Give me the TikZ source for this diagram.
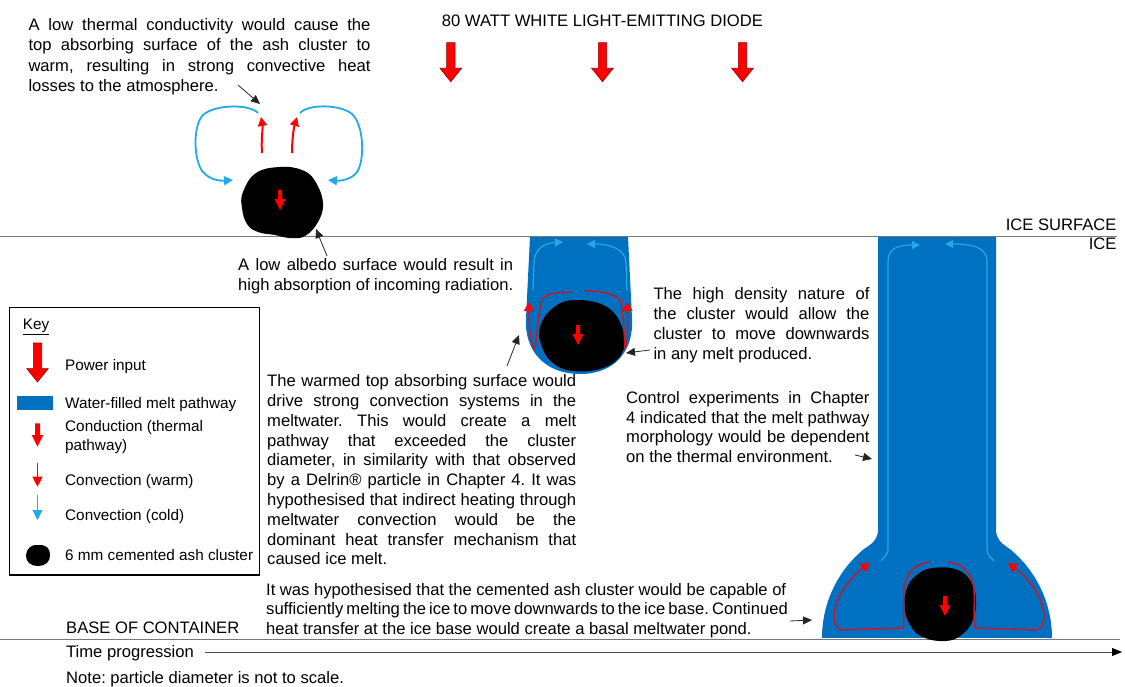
\documentclass[tikz,border=0pt]{standalone}
\usepackage{fontspec}
\setmainfont{Liberation Sans}
\usetikzlibrary{arrows.meta}
\frenchspacing
\definecolor{meltblue}{RGB}{0,112,192}
\definecolor{coldblue}{RGB}{35,170,230}
\definecolor{warmred}{RGB}{195,25,45}
\definecolor{hotred}{RGB}{255,0,0}
\definecolor{arrowedge}{RGB}{150,0,0}
\definecolor{rulegray}{RGB}{120,120,120}
\newcommand\jl[1]{\makebox[\linewidth][s]{#1}\par}
\newcommand\bodyfont{\fontsize{16.6}{19.8}\selectfont\frenchspacing}
\newcommand\keyfont{\fontsize{15.3}{18.3}\selectfont}
\begin{document}
\begin{tikzpicture}[x=1pt,y=-1pt,
  txt/.style={inner sep=0pt, anchor=base west, font=\bodyfont},
  keytxt/.style={inner sep=0pt, anchor=base west, font=\keyfont},
  pointer/.style={draw=black!85, line width=0.8pt, -{Triangle[length=9pt,width=8pt]}},
  cold/.style={draw=coldblue, line width=1.2pt, -{Triangle[length=8pt,width=8pt]}},
  coldthick/.style={draw=coldblue, line width=1.8pt, -{Triangle[length=9pt,width=9pt]}},
  warm/.style={draw=warmred, line width=1.5pt, -{Triangle[length=9pt,width=10pt,color=hotred]}},
  warmthick/.style={draw=hotred, line width=2pt, -{Triangle[length=9pt,width=9pt]}},
  rule/.style={draw=rulegray, line width=1pt},
  powerarrow/.pic={\filldraw[fill=hotred, draw=arrowedge, line width=0.6pt]
      (-4.2,0) -- (4.2,0) -- (4.2,25.6) -- (10.8,25.6) -- (0,39) -- (-10.8,25.6) -- (-4.2,25.6) -- cycle;},
  condarrow/.pic={\fill[hotred]
      (-2,0) -- (2,0) -- (2,9) -- (5.5,9) -- (0,20) -- (-5.5,9) -- (-2,9) -- cycle;},
]
\useasboundingbox (0,0) rectangle (1125,687);

% ---------- heading and incoming power ----------
\node[txt] (led) at (441.7,26.7) {80 WATT WHITE LIGHT-EMITTING DIODE};
\pic at (450.8,42.7) {powerarrow};
\pic at (602.5,42.7) {powerarrow};
\pic at (742.5,42.7) {powerarrow};

% ---------- melt pathways ----------
\fill[meltblue] (530,237) -- (526,318) .. controls (524,352) and (546,374) .. (580,374)
  .. controls (614,374) and (634,352) .. (632,318) -- (628,237) -- cycle;
\fill[meltblue] (878,237) -- (878,530) .. controls (878,539) and (872,544) .. (864,549)
  arc[start angle=230.6, end angle=180, radius=115] -- (1052,638)
  arc[start angle=0, end angle=-50.6, radius=115]
  .. controls (1002,544) and (996,539) .. (996,530) -- (996,237) -- cycle;

% ---------- surfaces ----------
\draw[rule] (0,236.5) -- (1117,236.5);
\draw[rule] (0,639) -- (1120,639);
\node[txt, anchor=base east] (icesurf) at (1116.7,230.7) {ICE SURFACE};
\node[txt, anchor=base east] (ice) at (1116.7,249.3) {ICE};

% ---------- stage 1: cluster on the ice surface ----------
\fill[black] plot[smooth cycle, tension=0.7] coordinates {
  (243,192) (256,173) (280,167) (302,170) (315,181) (323,203) (318,222)
  (305,236) (290,238) (275,235) (258,232) (247,224) (242,208)};
\pic at (280,190) {condarrow};
\draw[warmthick] (262,153) .. controls (261,140) and (263,128) .. (261,117);
\draw[warmthick] (292,153) .. controls (292,138) and (294,127) .. (297,117);
\draw[coldthick] (258,113) .. controls (250,104) and (215,104) .. (203,115)
  .. controls (193,125) and (193,160) .. (203,172) .. controls (210,180) and (220,181) .. (233,180);
\draw[coldthick] (300,113) .. controls (308,104) and (340,104) .. (352,114)
  .. controls (364,125) and (365,160) .. (357,172) .. controls (351,180) and (340,181) .. (328,180);

% ---------- stage 2: shallow melt pathway ----------
\fill[black] plot[smooth cycle, tension=0.7] coordinates {
  (575,300) (607,307) (623,330) (622,353) (603,368) (573,371) (553,363)
  (542,347) (540,327) (553,308)};
\pic at (578,325) {condarrow};
\draw[cold] (533,290) -- (534,262) .. controls (535,248) and (545,243) .. (563,242);
\draw[cold] (627,291) -- (626,262) .. controls (625,250) and (612,244) .. (587,244);
\draw[warm] (572,292) .. controls (560,292) and (546,293) .. (542,300)
  .. controls (538,315) and (537,335) .. (535,349) .. controls (531,345) and (529,330) .. (529,302);
\draw[warm] (585,291) .. controls (600,291) and (615,294) .. (620,300)
  .. controls (624,315) and (624,335) .. (625,348) .. controls (628,345) and (628,330) .. (627,302);

% ---------- stage 3: deep pathway and basal pond ----------
\fill[black] plot[smooth cycle, tension=0.7] coordinates {
  (933,568) (955,569) (970,580) (976,600) (972,622) (960,636) (945,641)
  (925,638) (912,628) (905,610) (907,588) (918,574)};
\pic at (945,596) {condarrow};
\draw[cold] (881,561) .. controls (884,556) and (888,556) .. (888,548) -- (888,262)
  .. controls (888,250) and (895,245) .. (920,245);
\draw[cold] (994,561) .. controls (990,556) and (987,556) .. (987,548) -- (987,262)
  .. controls (987,250) and (978,244) .. (945,244);
\draw[warm] (930,562) .. controls (915,563) and (905,575) .. (904,590)
  .. controls (903,605) and (905,618) .. (903,628) -- (842,630)
  .. controls (830,628) and (832,605) .. (845,587) .. controls (852,577) and (860,570) .. (870,563);
\draw[warm] (948,562) .. controls (963,563) and (973,575) .. (974,590)
  .. controls (975,605) and (973,618) .. (975,628) -- (1036,630)
  .. controls (1048,628) and (1046,605) .. (1033,587) .. controls (1026,577) and (1018,570) .. (1008,563);

% ---------- annotations ----------
\node[txt] (conduct) at (28.3,30.7) {\parbox[t]{342pt}{\bodyfont\baselineskip=20.3pt
  \jl{A low thermal conductivity would cause the}
  \jl{top absorbing surface of the ash cluster to}
  \jl{warm, resulting in strong convective heat}
  losses to the atmosphere.}};
\node[txt] (albedo) at (238,270.7) {\parbox[t]{275pt}{\bodyfont
  \jl{A low albedo surface would result in}
  high absorption of incoming radiation.}};
\node[txt] (warmed) at (267,386.7) {\parbox[t]{309pt}{\bodyfont
  \jl{The warmed top absorbing surface would}
  \jl{drive strong convection systems in the}
  \jl{meltwater. This would create a melt}
  \jl{pathway that exceeded the cluster}
  \jl{diameter, in similarity with that observed}
  \jl{by a Delrin® particle in Chapter 4. It was}
  \jl{hypothesised that indirect heating through}
  \jl{meltwater convection would be the}
  \jl{dominant heat transfer mechanism that}
  caused ice melt.}};
\node[txt] (density) at (653.3,300) {\parbox[t]{216pt}{\bodyfont
  \jl{The high density nature of}
  \jl{the cluster would allow the}
  \jl{cluster to move downwards}
  in any melt produced.}};
\node[txt] (control) at (626,403.3) {\parbox[t]{243.3pt}{\bodyfont
  \jl{Control experiments in Chapter}
  \jl{4 indicated that the melt pathway}
  \jl{morphology would be dependent}
  on the thermal environment.}};
\node[txt] (pond) at (266,595) {\parbox[t]{520pt}{\bodyfont
  \jl{It was hypothesised that the cemented ash cluster would be capable of}
  \jl{sufficiently melting the ice to move downwards to the ice base. Continued}
  heat transfer at the ice base would create a basal meltwater pond.}};

\coordinate (p1a) at (238,85);   \coordinate (p1b) at (260,104);
\coordinate (p2a) at (327,256);  \coordinate (p2b) at (316,229);
\coordinate (p3a) at (507,366);  \coordinate (p3b) at (519,335);
\coordinate (p4a) at (650,350);  \coordinate (p4b) at (626,353);
\coordinate (p5a) at (855,455);  \coordinate (p5b) at (872,459);
\coordinate (p6a) at (790,621);  \coordinate (p6b) at (812,620);
\draw[pointer] (p1a) -- (p1b);
\draw[pointer] (p2a) -- (p2b);
\draw[pointer] (p3a) -- (p3b);
\draw[pointer] (p4a) -- (p4b);
\draw[pointer] (p5a) -- (p5b);
\draw[pointer] (p6a) -- (p6b);

% ---------- base and time axis ----------
\node[txt] (base) at (66,633) {BASE OF CONTAINER};
\node[txt] (time) at (66,657.5) {Time progression};
\node[txt] (note) at (66,683) {Note: particle diameter is not to scale.};
\coordinate (tstart) at (205,652);
\coordinate (tend) at (1122,652);
\draw[draw=black!70, line width=0.9pt, -{Triangle[length=10pt,width=8pt,color=black]}] (tstart) -- (tend);

% ---------- key ----------
\draw[black, line width=1.2pt] (9.3,307.3) rectangle (259.3,575);
\node[keytxt] (keyhead) at (22.7,330) {\underline{Key}};
\begin{scope}[shift={(37.5,343)}, scale=1]
  \pic {powerarrow};
\end{scope}
\node[keytxt] (kpower) at (65,370.7) {Power input};
\fill[meltblue] (16.7,396) rectangle (52.7,410);
\node[keytxt] (kmelt) at (65,408.3) {Water-filled melt pathway};
\begin{scope}[shift={(37.5,423.3)}]
  \fill[hotred] (-2.5,0) -- (2.5,0) -- (2.5,11.7) -- (5.8,11.7) -- (0,23.4) -- (-5.8,11.7) -- (-2.5,11.7) -- cycle;
\end{scope}
\node[keytxt] (kcond) at (65,431.7) {\parbox[t]{190pt}{\keyfont Conduction (thermal\\pathway)}};
\coordinate (kw1) at (37.5,463.3); \coordinate (kw2) at (37.5,486.7);
\draw[draw=hotred, line width=1pt, -{Triangle[length=10pt,width=10pt]}] (kw1) -- (kw2);
\node[keytxt] (kwarm) at (65,485) {Convection (warm)};
\coordinate (kc1) at (37.5,495); \coordinate (kc2) at (37.5,520);
\draw[draw=coldblue, line width=1pt, -{Triangle[length=10pt,width=10pt]}] (kc1) -- (kc2);
\node[keytxt] (kcold) at (65,520) {Convection (cold)};
\fill[black] plot[smooth cycle, tension=0.7] coordinates {
  (26,555) (30,547) (38,545) (47,547) (50,555) (47,563) (38,566) (29,563)};
\node[keytxt] (kblob) at (65,560) {6 mm cemented ash cluster};
\end{tikzpicture}
\end{document}
